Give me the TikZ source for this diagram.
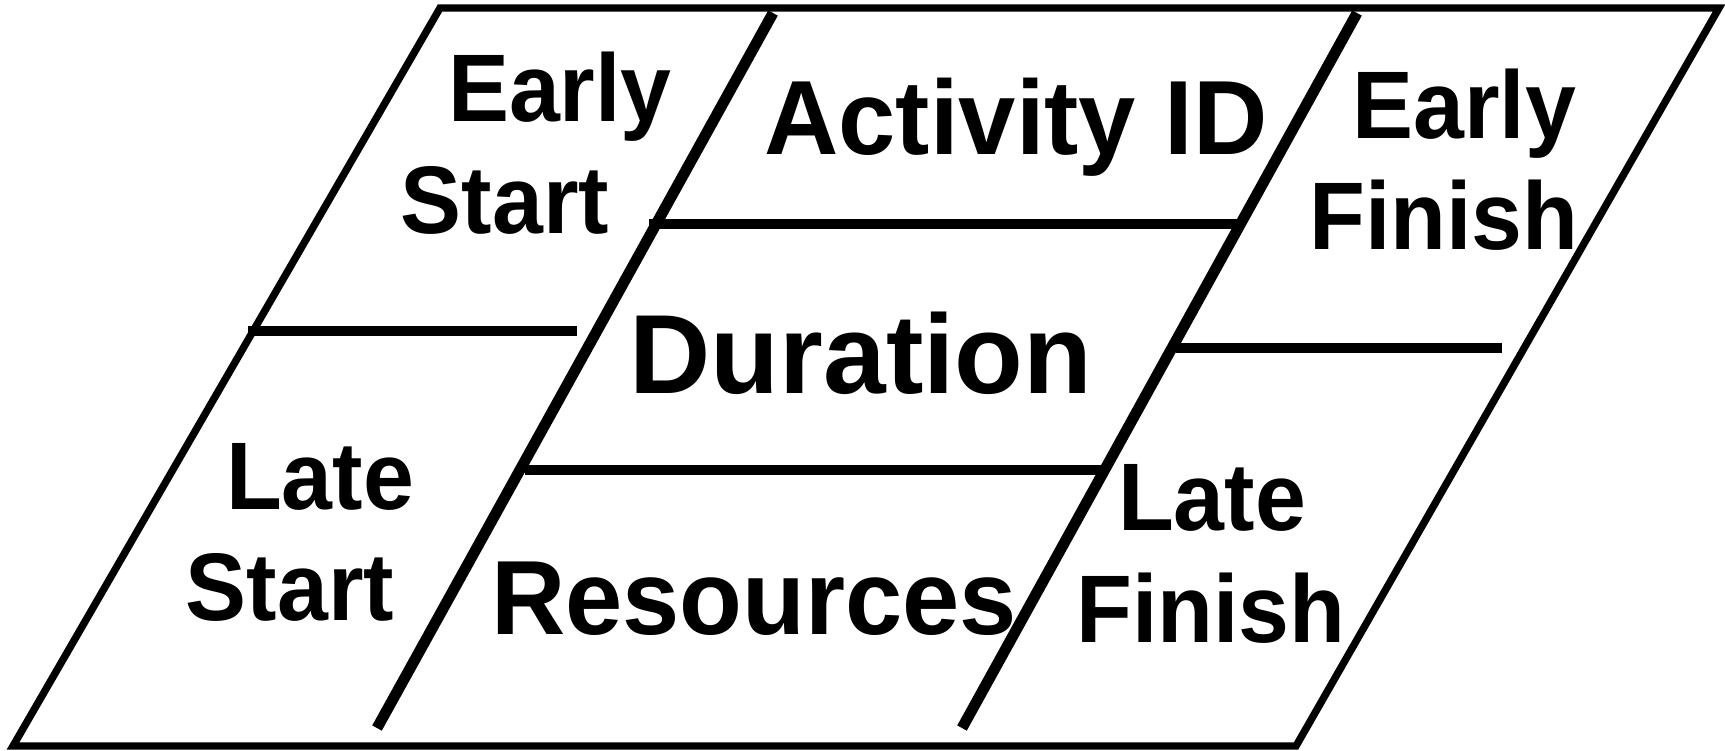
\documentclass[tikz,border=0pt]{standalone}
\usepackage{graphicx}
\usepackage{fontspec}
\setmainfont{Liberation Sans}

% text in the box is a little taller / narrower than Liberation Sans
\newcommand{\tallword}[1]{\scalebox{1}[1.05]{#1}}
\newcommand{\narrowword}[1]{\scalebox{0.975}[1]{#1}}

\begin{document}
\begin{tikzpicture}[x=0.01cm, y=-0.01cm,
  frame/.style={draw=black, line width=2.1pt, line join=miter},
  divider/.style={draw=black, line width=3.1pt},
  smalltext/.style={anchor=base, inner sep=0pt, font=\bfseries\fontsize{26}{30}\selectfont},
  bigtext/.style={anchor=base, inner sep=0pt, font=\bfseries\fontsize{30}{34}\selectfont}]

\useasboundingbox (0,0) rectangle (1725,750);

% outer box
\draw[frame] (440,8) -- (1719,8) -- (1296,746) -- (13,746) -- cycle;

% slanted dividers
\draw[divider] (773,13) -- (377,728);
\draw[divider] (1357,13) -- (962,728);

% horizontal dividers
\draw[divider] (248,331) -- (577,331);
\draw[divider] (649,224) -- (1237,224);
\draw[divider] (525,470) -- (1101,470);
\draw[divider] (1176,348) -- (1502,348);

% labels
\node[smalltext] (esearly) at (560,121) {\tallword{Early}};
\node[smalltext] (esstart) at (505,233) {\tallword{Start}};
\node[bigtext] (actid) at (1016,154) {\narrowword{Activity ID}};
\node[smalltext] (efearly) at (1464,138) {\tallword{Early}};
\node[smalltext] (effinish) at (1444,249) {\tallword{Finish}};
\node[bigtext, font=\bfseries\fontsize{32}{36}\selectfont] (dur) at (861,393) {Duration};
\node[smalltext] (lslate) at (320,509) {\tallword{Late}};
\node[smalltext] (lsstart) at (290,620) {\tallword{Start}};
\node[bigtext] (res) at (754,634) {\narrowword{Resources}};
\node[smalltext] (lflate) at (1212,530) {\tallword{Late}};
\node[smalltext] (lffinish) at (1211,642) {\tallword{Finish}};

\end{tikzpicture}
\end{document}
